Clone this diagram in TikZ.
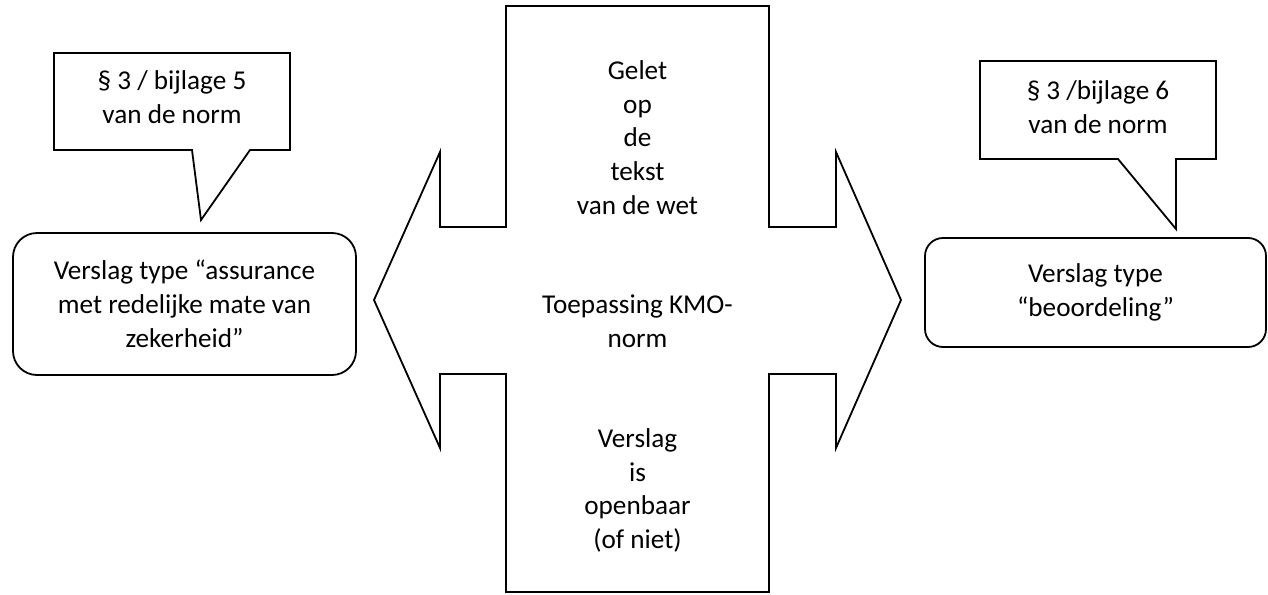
\documentclass[tikz,border=0pt]{standalone}
\usepackage{fontspec}
\setmainfont{Carlito}
\begin{document}
\begin{tikzpicture}[x=0.5pt,y=-0.5pt,
  shape line/.style={draw=black,line width=0.9pt,line join=miter},
  txt/.style={align=center,inner sep=0pt,font=\fontsize{13.6pt}{16.9pt}\selectfont},
  rbox/.style={shape line,rectangle,rounded corners=#1,align=center,inner sep=0pt,
    font=\fontsize{13.6pt}{16.9pt}\selectfont}]
\useasboundingbox (0,0) rectangle (1268,594);

% central double arrow / cross
\draw[shape line] (506,6) -- (769,6) -- (769,227) -- (836,227) -- (836,152)
  -- (901,300) -- (836,448) -- (836,374) -- (769,374) -- (769,592)
  -- (506,592) -- (506,374) -- (440,374) -- (440,448) -- (374,300)
  -- (440,152) -- (440,227) -- (506,227) -- cycle;
\node[txt] (top) at (637.5,137.5) {Gelet\\op\\de\\tekst\\van de wet};
\node[txt] (mid) at (637.5,321.5) {Toepassing KMO-\\norm};
\node[txt] (bot) at (637.5,490.5) {Verslag\\is\\openbaar\\(of niet)};

% left callout
\draw[shape line] (54,53) -- (290,53) -- (290,150) -- (250,150) -- (201,220)
  -- (192,150) -- (54,150) -- cycle;
\node[txt] (cl) at (172,97.5) {§ 3 / bijlage 5\\van de norm};

% right callout
\draw[shape line] (980,61) -- (1216,61) -- (1216,159) -- (1176,159) -- (1176,229)
  -- (1118,159) -- (980,159) -- cycle;
\node[txt] (cr) at (1098,107) {§ 3 /bijlage 6\\van de norm};

% rounded boxes
\node[rbox=12pt,minimum width=171.5pt,minimum height=71pt] (L) at (184.5,304)
  {Verslag type “assurance\\met redelijke mate van\\zekerheid”};
\node[rbox=9pt,minimum width=170.5pt,minimum height=54.5pt] (R) at (1095.5,292.5)
  {Verslag type\\“beoordeling”};
\end{tikzpicture}
\end{document}
